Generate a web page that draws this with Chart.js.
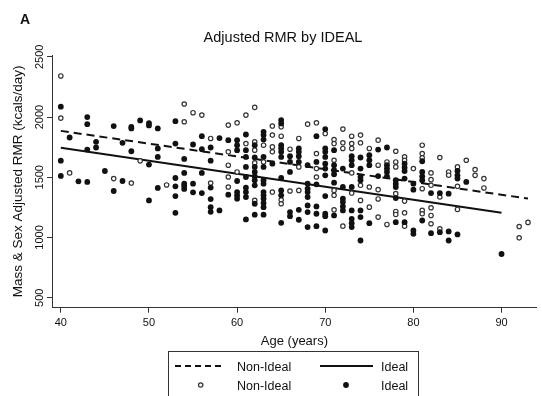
<!DOCTYPE html>
<html><head><meta charset="utf-8">
<script src="https://cdn.jsdelivr.net/npm/chart.js@4/dist/chart.umd.min.js"></script>
<style>
html,body{margin:0;padding:0;background:#fff;}
body{width:542px;height:396px;position:relative;overflow:hidden;font-family:"Liberation Sans",Arial,Helvetica,sans-serif;color:#111;}
#wrap{position:absolute;left:0;top:0;width:542px;height:396px;}
.t{position:absolute;white-space:nowrap;line-height:1;}
#panel{left:20px;top:12px;font-size:14px;font-weight:bold;}
#title{left:283px;top:30.4px;font-size:14.5px;transform:translateX(-50%);}
.lg{font-size:12.5px;}
#svg{position:absolute;left:0;top:0;}
</style></head><body>
<div id="wrap"><canvas id="c"></canvas></div>
<div class="t" id="panel">A</div>
<div class="t" id="title">Adjusted RMR by IDEAL</div>
<svg id="svg" width="542" height="396">
  <rect x="168.5" y="351.5" width="250" height="60" fill="none" stroke="#333" stroke-width="1"/>
  <line x1="175" y1="366" x2="225" y2="366" stroke="#111" stroke-width="2" stroke-dasharray="6 4"/>
  <line x1="320" y1="366" x2="373" y2="366" stroke="#111" stroke-width="2"/>
  <circle cx="200.7" cy="385" r="2.2" fill="#fff" stroke="#333" stroke-width="1.2"/>
  <circle cx="346" cy="385" r="2.9" fill="#111"/>
</svg>
<div class="t lg" style="left:237px;top:361px">Non-Ideal</div>
<div class="t lg" style="left:381px;top:361px">Ideal</div>
<div class="t lg" style="left:237px;top:380px">Non-Ideal</div>
<div class="t lg" style="left:381px;top:380px">Ideal</div>
<script>
// Each row: [age, RMR values observed at that age...]
const nonIdealByAge = [
  [40, 2341, 1991], [41, 1536], [46, 1489], [48, 1452], [49, 1636], [52, 1436],
  [54, 2108, 1961], [55, 2036], [56, 2016], [57, 1822, 1452],
  [59, 1933, 1711, 1600, 1502, 1419], [60, 1952, 1544], [61, 2016, 1780],
  [62, 2080, 1794, 1725, 1619, 1308], [63, 1766, 1627],
  [64, 1925, 1850, 1752, 1711, 1377], [65, 1919, 1841, 1313, 1280],
  [66, 1733, 1386], [67, 1822, 1586, 1391], [68, 1941],
  [69, 1952, 1697, 1572, 1502], [70, 1863],
  [71, 1813, 1780, 1641, 1391, 1350, 1230], [72, 1900, 1786, 1739, 1094],
  [73, 1841, 1780, 1739, 1536, 1369], [74, 1850, 1786, 1433, 1308],
  [75, 1739, 1419, 1252], [76, 1808, 1600, 1397, 1320, 1169], [77, 1627, 1108],
  [78, 1716, 1627, 1586, 1364, 1216, 1191], [79, 1669, 1641, 1302, 1205, 1094],
  [80, 1572], [81, 1766, 1697, 1661, 1405, 1225, 1197],
  [82, 1536, 1480, 1433, 1247, 1183, 1114], [83, 1664, 1336, 1072],
  [84, 1544, 1517], [85, 1586, 1425, 1233], [86, 1641], [87, 1564, 1516],
  [88, 1489, 1411], [92, 1091, 997], [93, 1125]
];
const idealByAge = [
  [40, 2086, 1638, 1511], [41, 1830], [42, 1466], [43, 2000, 1941, 1730, 1461],
  [44, 1794, 1747], [45, 1552], [46, 1925, 1386], [47, 1786, 1469],
  [48, 1919, 1905, 1716], [49, 1972], [50, 1950, 1930, 1605, 1308],
  [51, 1905, 1739, 1669, 1411], [53, 1966, 1780, 1494, 1425, 1344, 1205],
  [54, 1652, 1536, 1447, 1428, 1403], [55, 1772, 1447, 1375],
  [56, 1841, 1733, 1536, 1369], [57, 1747, 1638, 1414, 1319, 1252, 1213],
  [58, 1825, 1225], [59, 1808, 1355], [60, 1808, 1766, 1725, 1469, 1377, 1350, 1322],
  [61, 1855, 1725, 1669, 1586, 1502, 1413, 1377, 1336, 1150],
  [62, 1766, 1664, 1586, 1544, 1508, 1475, 1433, 1280, 1189],
  [63, 1877, 1850, 1813, 1669, 1586, 1475, 1447, 1377, 1350, 1322, 1286, 1252, 1189],
  [64, 1613], [65, 1975, 1947, 1766, 1739, 1711, 1669, 1494, 1391, 1350, 1122],
  [66, 1675, 1627, 1544, 1211, 1177], [67, 1739, 1711, 1675, 1627, 1230, 1147],
  [68, 1600, 1447, 1405, 1377, 1336, 1266, 1211, 1086],
  [69, 1841, 1627, 1441, 1258, 1197, 1094],
  [70, 1900, 1739, 1711, 1669, 1613, 1572, 1516, 1344, 1197, 1177, 1058],
  [71, 1725, 1600, 1558, 1525, 1455, 1183], [72, 1572, 1419, 1322, 1294, 1258, 1225],
  [73, 1675, 1641, 1600, 1419, 1225, 1155, 1119, 1086],
  [74, 1664, 1572, 1502, 1475, 1225, 1169, 975], [75, 1683, 1641, 1600, 1119],
  [76, 1730, 1510], [77, 1747, 1600, 1572, 1544, 1508], [78, 1475, 1447, 1419, 1327, 1127],
  [79, 1613, 1580, 1552, 1489, 1127], [80, 1447, 1397, 1058, 1030],
  [81, 1633, 1544, 1508, 1475, 1141], [82, 1369, 1036], [83, 1369, 1044],
  [84, 1364, 1050, 975], [85, 1552, 1516, 1489, 1025], [86, 1461], [90, 863]
];
// Fitted regression lines (end points)
const nonIdealFitAge = [40, 93];
const nonIdealFitRmr = [1885, 1323];
const idealFitAge = [40, 90];
const idealFitRmr = [1745, 1205];
// Axis ticks
const xTicks = [40, 50, 60, 70, 80, 90];
const yTicks = [500, 1000, 1500, 2000, 2500];

const toPts = rows => rows.flatMap(r => r.slice(1).map(v => ({x: r[0], y: v})));
const toLine = (ages, vals) => ages.map((a, i) => ({x: a, y: vals[i]}));
const FONT = "'Liberation Sans', Arial, Helvetica, sans-serif";
const AX = '#333';

new Chart(document.getElementById('c'), {
  type: 'scatter',
  data: {
    datasets: [
      {type: 'scatter', label: 'Ideal', data: toPts(idealByAge), order: 1,
       pointRadius: 2.9, pointBackgroundColor: '#111', pointBorderColor: '#111', pointBorderWidth: 0},
      {type: 'scatter', label: 'Non-Ideal', data: toPts(nonIdealByAge), order: 2,
       pointRadius: 2.2, pointBackgroundColor: '#fff', pointBorderColor: '#333', pointBorderWidth: 1.2},
      {type: 'line', label: 'Non-Ideal fit', data: toLine(nonIdealFitAge, nonIdealFitRmr), order: 3,
       borderColor: '#111', borderWidth: 2, borderDash: [8, 5], pointRadius: 0, fill: false, showLine: true},
      {type: 'line', label: 'Ideal fit', data: toLine(idealFitAge, idealFitRmr), order: 3,
       borderColor: '#111', borderWidth: 2, pointRadius: 0, fill: false, showLine: true}
    ]
  },
  options: {
    responsive: true, maintainAspectRatio: false, animation: false, devicePixelRatio: 1,
    layout: {padding: {left: 10, right: 5, top: 55, bottom: 46.5}},
    plugins: {legend: {display: false}, tooltip: {enabled: false}, title: {display: false}},
    scales: {
      x: {
        type: 'linear', min: 39, max: 94,
        afterBuildTicks: s => { s.ticks = xTicks.map(v => ({value: v})); },
        ticks: {font: {family: FONT, size: 11}, color: '#111', padding: 4, autoSkip: false, maxRotation: 0,
                callback: v => String(v)},
        grid: {drawOnChartArea: false, drawTicks: true, tickLength: 5, color: AX, lineWidth: 1},
        border: {display: true, color: AX, width: 1},
        title: {display: true, text: 'Age (years)', font: {family: FONT, size: 13}, color: '#111',
                padding: {top: 0, bottom: 0}}
      },
      y: {
        type: 'linear', min: 417, max: 2515,
        afterBuildTicks: s => { s.ticks = yTicks.map(v => ({value: v})); },
        ticks: {font: {family: FONT, size: 11}, color: '#111', padding: -5.2, minRotation: 90, maxRotation: 90,
                crossAlign: 'center', autoSkip: false, callback: v => String(v)},
        grid: {drawOnChartArea: false, drawTicks: true, tickLength: 5, color: AX, lineWidth: 1},
        border: {display: true, color: AX, width: 1},
        title: {display: true, text: 'Mass & Sex Adjusted RMR (kcals/day)', font: {family: FONT, size: 13.5},
                color: '#111', padding: {top: 0, bottom: 18}}
      }
    }
  }
});
</script>
</body></html>
